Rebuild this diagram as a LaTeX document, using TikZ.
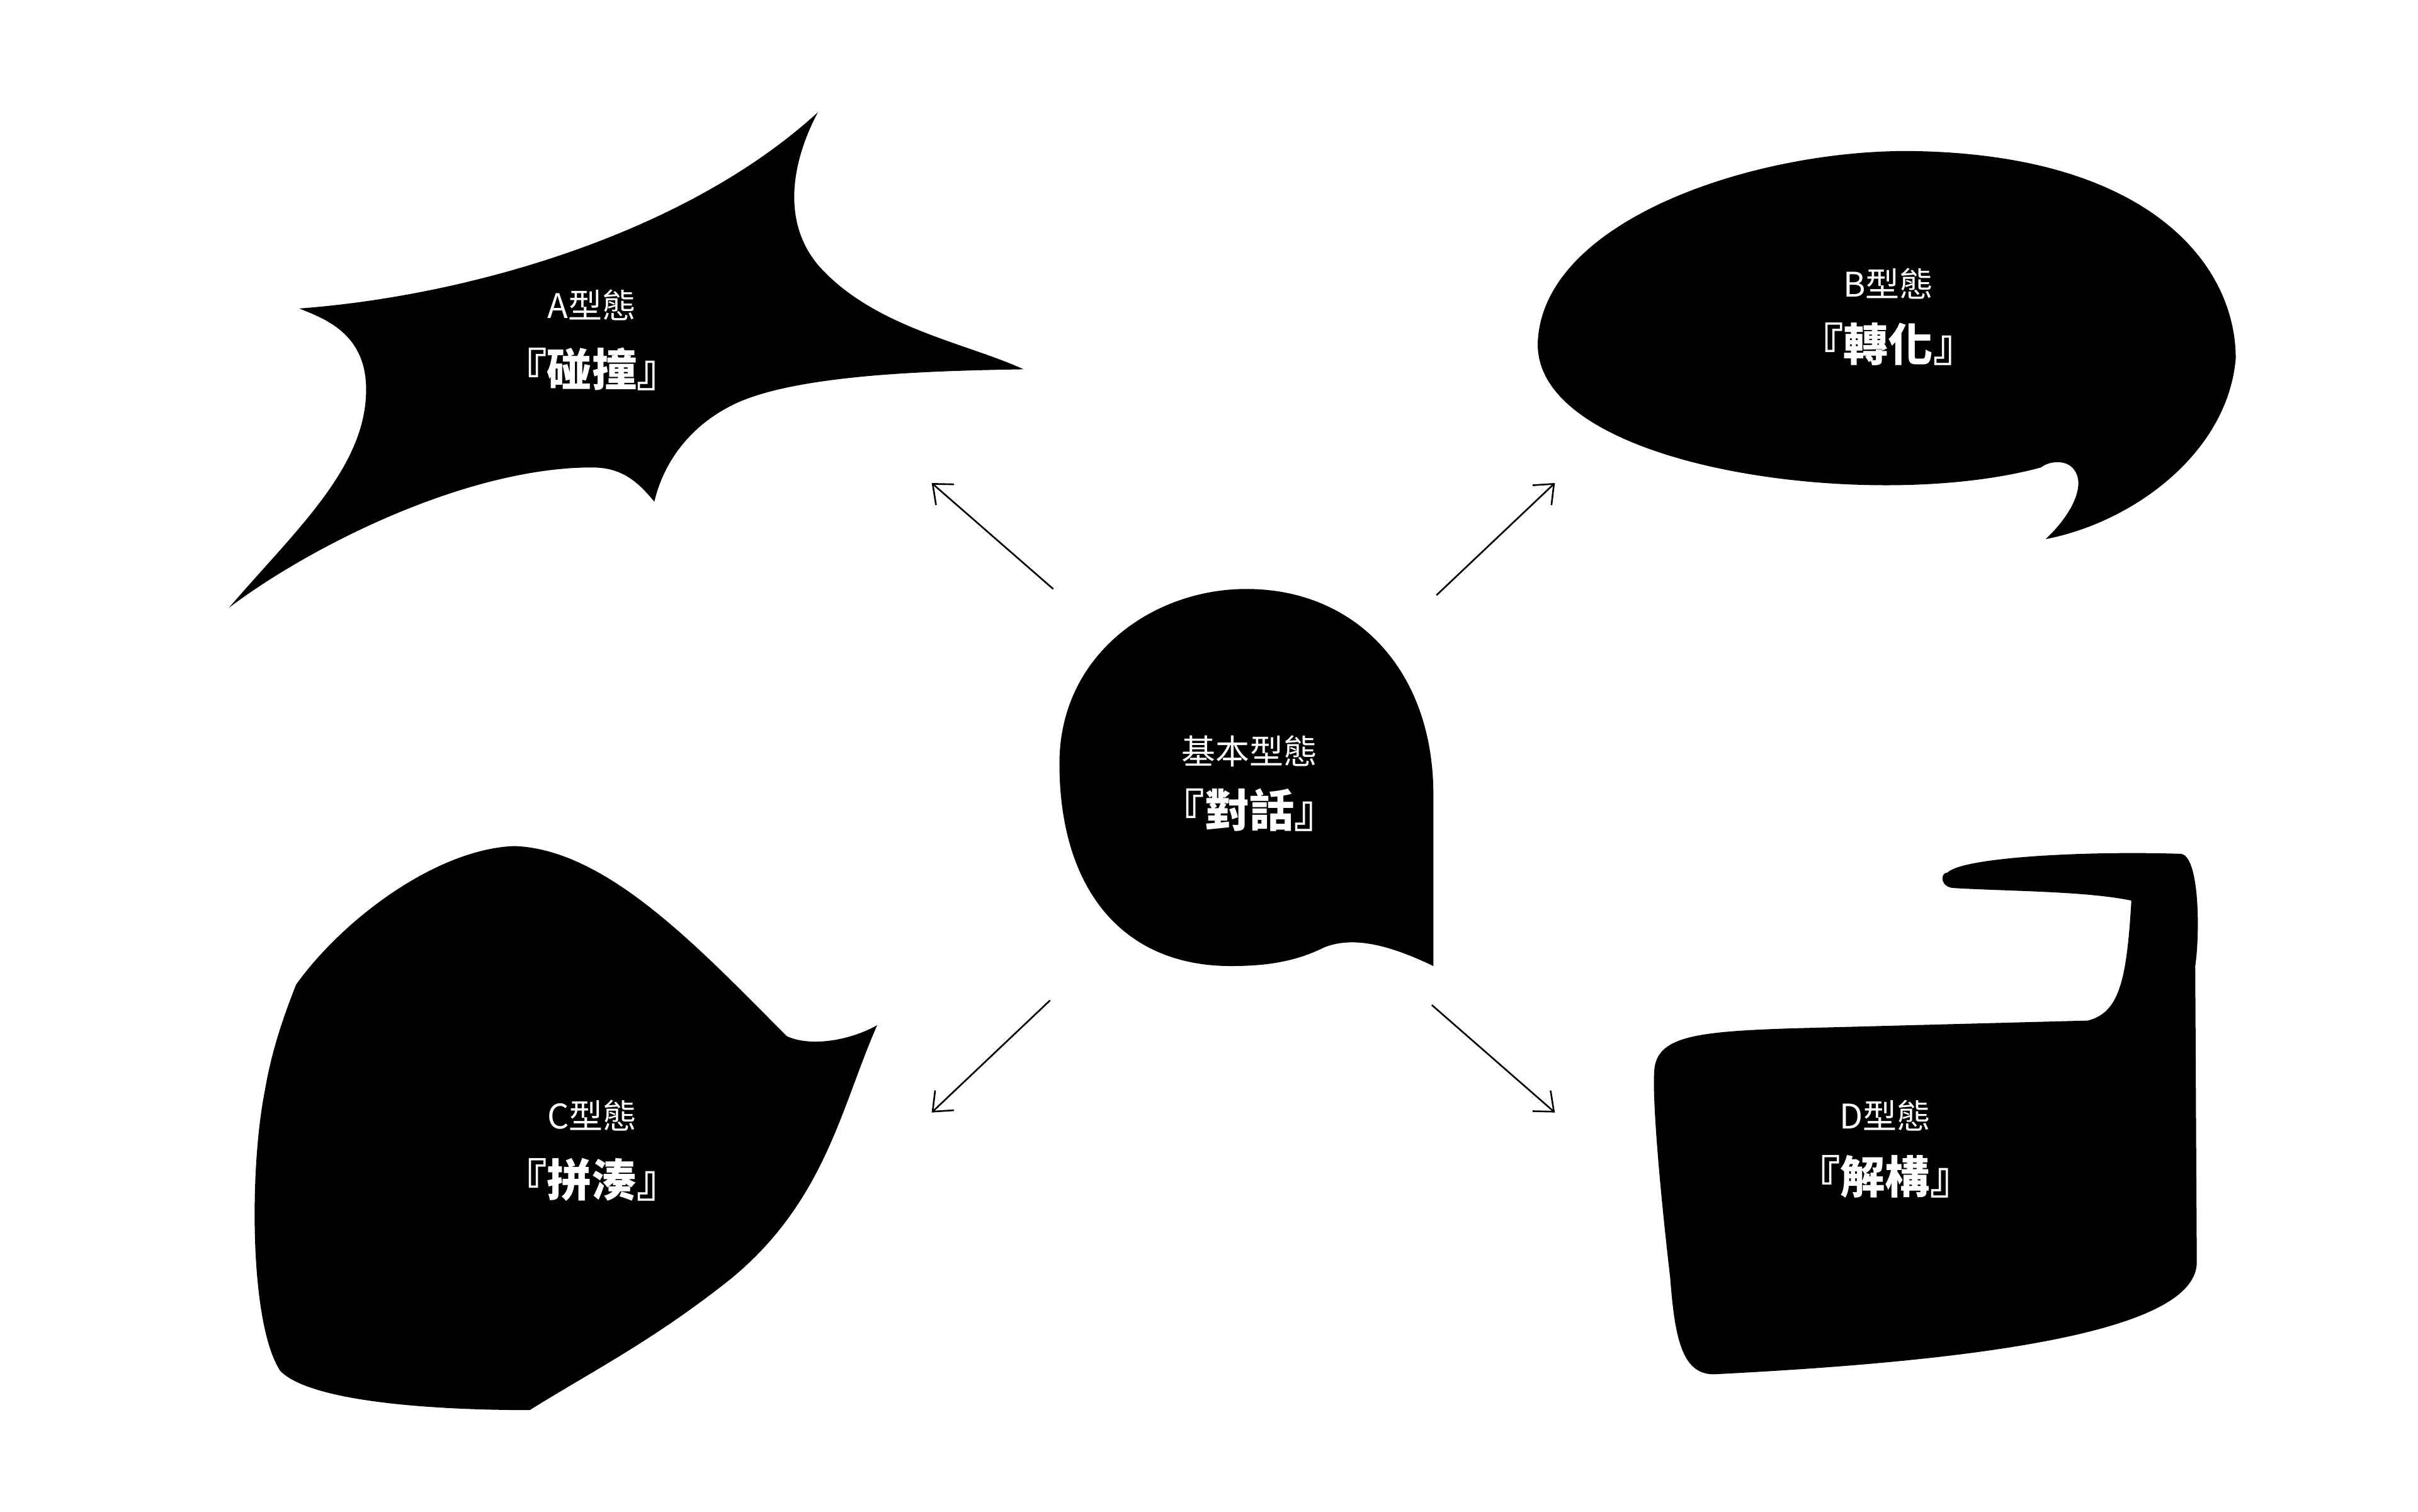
\documentclass[tikz,border=0pt]{standalone}
\usepackage{fontspec}
\newfontfamily\cjk{Noto Sans CJK TC}
\usetikzlibrary{arrows.meta}
\begin{document}
\begin{tikzpicture}[x=0.1cm,y=-0.1cm,
  blob/.style={fill=black,draw=none},
  sm/.style={text=white,font=\cjk\fontsize{62}{70}\selectfont},
  bg/.style={text=white,font=\cjk\bfseries\fontsize{82}{90}\selectfont},
  arr/.style={line width=3pt,-{Straight Barb[length=30pt,width=50pt,line width=3pt]}}]
\useasboundingbox[fill=white] (0,0) rectangle (1552,970);
% center
\fill[blob] (680,490) .. controls (680,420) and (740,378) .. (800,378) .. controls (870,378) and (920,430) .. (920,510) -- (920,620) .. controls (895,608) and (870,600) .. (850,608) .. controls (830,618) and (810,620) .. (790,620) .. controls (720,620) and (680,570) .. (680,490) -- cycle;
% A
\fill[blob] (192,198) .. controls (300,190) and (440,150) .. (525,72) .. controls (510,100) and (500,140) .. (525,170) .. controls (560,210) and (620,220) .. (657,237) .. controls (600,238) and (510,240) .. (470,260) .. controls (440,275) and (425,300) .. (420,322) .. controls (410,310) and (400,300) .. (380,300) .. controls (300,300) and (200,350) .. (147,390) .. controls (190,340) and (235,300) .. (235,250) .. controls (235,215) and (210,205) .. (192,198) -- cycle;
% B
\fill[blob] (1310,300) .. controls (1200,330) and (985,300) .. (987,220) .. controls (990,140) and (1130,95) .. (1230,97) .. controls (1380,100) and (1435,170) .. (1435,230) .. controls (1430,290) and (1370,335) .. (1313,346) .. controls (1330,330) and (1340,310) .. (1330,300) .. controls (1325,295) and (1315,296) .. (1310,300) -- cycle;
% C
\fill[blob] (330,543) .. controls (390,545) and (450,610) .. (505,665) .. controls (520,672) and (545,668) .. (563,658) .. controls (540,710) and (530,770) .. (470,820) .. controls (420,860) and (380,880) .. (340,905) .. controls (280,905) and (200,900) .. (180,880) .. controls (160,850) and (160,750) .. (170,700) .. controls (175,670) and (185,645) .. (190,632) .. controls (220,590) and (280,545) .. (330,543) -- cycle;
% D
\fill[blob] (1250,560) .. controls (1260,550) and (1340,546) .. (1400,548) .. controls (1412,550) and (1412,600) .. (1409,620) -- (1410,810) .. controls (1410,850) and (1300,872) .. (1100,882) .. controls (1080,882) and (1075,860) .. (1072,820) .. controls (1065,760) and (1060,700) .. (1062,685) .. controls (1065,665) and (1090,662) .. (1150,660) -- (1340,655) .. controls (1360,650) and (1365,630) .. (1368,578) .. controls (1340,572) and (1290,572) .. (1255,570) .. controls (1245,570) and (1245,560) .. (1250,560) -- cycle;
% texts
\node[sm] (ta) at (380,196) {A型態};
\node[bg] (tA) at (380,237) {『碰撞』};
\node[sm] (tb) at (1212,182) {B型態};
\node[bg] (tB) at (1212,221) {『轉化』};
\node[sm] (tc) at (802,482) {基本型態};
\node[bg] (tC) at (802,520) {『對話』};
\node[sm] (td) at (380,716) {C型態};
\node[bg] (tD) at (380,757) {『拼湊』};
\node[sm] (te) at (1210,716) {D型態};
\node[bg] (tE) at (1210,755) {『解構』};
% arrows
\coordinate (a1) at (676,378); \coordinate (a2) at (598,310);
\coordinate (b1) at (922,382); \coordinate (b2) at (998,310);
\coordinate (c1) at (674,642); \coordinate (c2) at (598,714);
\coordinate (d1) at (919,645); \coordinate (d2) at (998,714);
\draw[arr] (a1) -- (a2);
\draw[arr] (b1) -- (b2);
\draw[arr] (c1) -- (c2);
\draw[arr] (d1) -- (d2);
\end{tikzpicture}
\end{document}
